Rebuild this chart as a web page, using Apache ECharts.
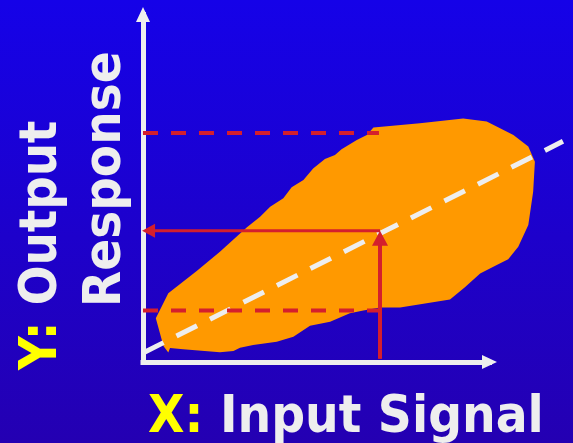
<html>
<head>
<meta charset="utf-8">
<script src="https://cdn.jsdelivr.net/npm/echarts@6/dist/echarts.min.js"></script>
<style>
  html, body, #main { width: 100%; height: 100%; margin: 0; }
</style>
</head>
<body>
<div id="main"></div>
<script>
// outline of the orange response cloud (x: input, y: output, axis units 0-100)
var blobX = [3.7, 7.3, 15.5, 22.2, 30.0, 33.8, 36.7, 40.5, 42.9, 46.3, 49.1, 52.5, 55.4, 57.3, 61.7, 64.6, 66.5,
  79.9, 92.4, 99.2, 106.9, 111.2, 113.1, 112.6, 111.2, 108.3, 105.4, 102.1, 97.3, 92.9, 88.6, 74.2, 68.4,
  63.6, 59.7, 54.0, 48.2, 43.4, 38.6, 31.8, 28.0, 26.1, 22.2, 16.0, 11.6, 7.8, 7.3, 5.9];
var blobY = [12.6, 19.8, 26.2, 31.7, 38.8, 41.8, 44.7, 47.1, 50.3, 52.4, 55.7, 58.4, 59.6, 61.2, 63.9, 65.3, 67.5,
  68.7, 70.1, 69.2, 65.3, 62.0, 57.6, 49.0, 39.4, 33.2, 29.6, 27.9, 25.5, 21.5, 18.0, 15.7, 15.7,
  14.8, 14.0, 11.6, 10.4, 7.3, 5.8, 4.9, 4.1, 3.2, 2.8, 3.3, 3.7, 4.0, 2.7, 4.6];

// white dashed trend line
var trendX = [0, 121.2];
var trendY = [2.6, 63.5];

// red guide levels
var highLevel = 65.9;
var lowLevel = 14.8;
var levelEndX = [68.1, 68.4];
var inputX = 68.4;
var outputY = 37.8;
var shaftY = [0.9, 35.6];   // vertical arrow: bottom, arrow head centre
var headX = 1.6;            // horizontal arrow head centre

var RED = '#d41f2d';
var WHITE = '#eeeeee';
var FONT = 'DejaVu Sans';

var chart = echarts.init(document.getElementById('main'));

function pts(xs, ys) {
  return xs.map(function (x, i) { return [x, ys[i]]; });
}

var option = {
  animation: false,
  backgroundColor: {
    type: 'linear', x: 0, y: 0, x2: 0, y2: 1,
    colorStops: [{ offset: 0, color: '#1502e8' }, { offset: 1, color: '#2400b2' }]
  },
  grid: { left: 143, right: 83.5, top: 14.5, bottom: 81 },
  xAxis: {
    type: 'value', min: 0, max: 100,
    axisLine: { show: true, symbol: ['none', 'triangle'], symbolSize: [14, 15],
      lineStyle: { color: WHITE, width: 5, cap: 'square' } },
    axisTick: { show: false }, axisLabel: { show: false }, splitLine: { show: false }
  },
  yAxis: {
    type: 'value', min: 0, max: 100,
    axisLine: { show: true, symbol: ['none', 'triangle'], symbolSize: [14, 15],
      lineStyle: { color: WHITE, width: 5, cap: 'square' } },
    axisTick: { show: false }, axisLabel: { show: false }, splitLine: { show: false }
  },
  series: [
    {
      type: 'custom',
      silent: true,
      clip: false,
      z: 1,
      data: pts(blobX, blobY),
      renderItem: function (params, api) {
        if (params.dataIndex !== 0) return;
        var poly = blobX.map(function (x, i) { return api.coord([x, blobY[i]]); });
        return { type: 'polygon', shape: { points: poly }, style: { fill: '#ff9900' } };
      }
    },
    {
      type: 'custom',
      silent: true,
      clip: false,
      z: 3,
      data: pts(trendX, trendY),
      renderItem: function (params, api) {
        if (params.dataIndex !== 0) return;
        var a = api.coord([trendX[0], trendY[0]]);
        var b = api.coord([trendX[1], trendY[1]]);
        return {
          type: 'line',
          shape: { x1: a[0], y1: a[1], x2: b[0], y2: b[1] },
          style: { stroke: WHITE, lineWidth: 5, lineDash: [23, 14.5] }
        };
      }
    },
    {
      type: 'line', silent: true, clip: false, symbol: 'none', z: 4,
      data: [[0, highLevel], [levelEndX[0], highLevel]],
      lineStyle: { color: RED, width: 4, type: [15, 13] }
    },
    {
      type: 'line', silent: true, clip: false, symbol: 'none', z: 4,
      data: [[0, lowLevel], [levelEndX[1], lowLevel]],
      lineStyle: { color: RED, width: 4, type: [15, 13] }
    },
    {
      type: 'line', silent: true, clip: false, z: 5,
      symbol: 'triangle', showSymbol: true,
      data: [
        { value: [inputX, shaftY[0]], symbol: 'none' },
        { value: [inputX, shaftY[1]], symbol: 'triangle', symbolSize: [16, 15] }
      ],
      itemStyle: { color: RED, borderWidth: 0 },
      lineStyle: { color: RED, width: 4 }
    },
    {
      type: 'line', silent: true, clip: false, z: 5,
      symbol: 'triangle', showSymbol: true,
      data: [
        { value: [inputX, outputY], symbol: 'none' },
        { value: [headX, outputY], symbol: 'triangle', symbolSize: [14, 13], symbolRotate: 90 }
      ],
      itemStyle: { color: RED, borderWidth: 0 },
      lineStyle: { color: RED, width: 3 }
    }
  ],
  graphic: [
    {
      type: 'text', x: 148, y: 418, scaleX: 0.91, silent: true,
      style: {
        text: '{y|X:} Input Signal',
        fill: WHITE, fontSize: 52, fontWeight: 'bold', fontFamily: FONT,
        align: 'left', verticalAlign: 'middle',
        rich: { y: { fill: '#ffff00', fontSize: 52, fontWeight: 'bold', fontFamily: FONT } }
      }
    },
    {
      type: 'text', x: 42, y: 370, rotation: Math.PI / 2, scaleX: 0.9, silent: true,
      style: {
        text: '{y|Y:} Output',
        fill: WHITE, fontSize: 52, fontWeight: 'bold', fontFamily: FONT,
        align: 'left', verticalAlign: 'middle',
        rich: { y: { fill: '#ffff00', fontSize: 52, fontWeight: 'bold', fontFamily: FONT } }
      }
    },
    {
      type: 'text', x: 106, y: 307, rotation: Math.PI / 2, scaleX: 0.905, silent: true,
      style: {
        text: 'Response',
        fill: WHITE, fontSize: 52, fontWeight: 'bold', fontFamily: FONT,
        align: 'left', verticalAlign: 'middle'
      }
    }
  ]
};
chart.setOption(option);
window.onresize = chart.resize;
</script>
</body>
</html>
